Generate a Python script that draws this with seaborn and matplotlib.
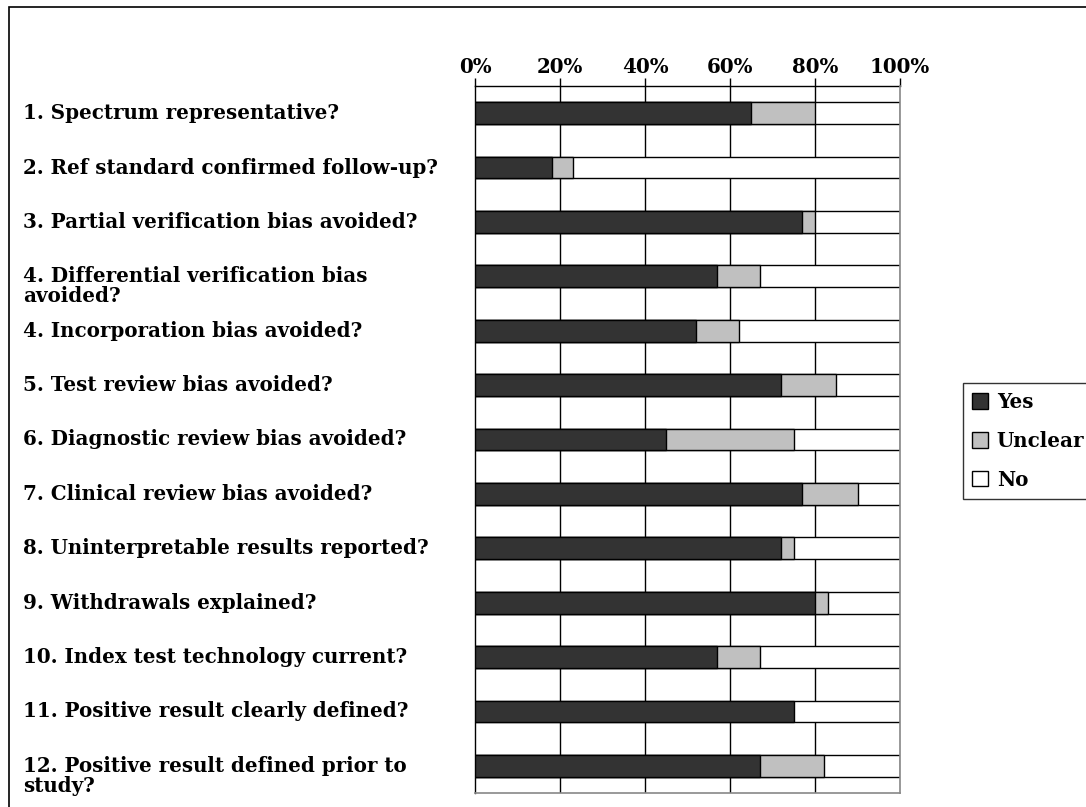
import pandas as pd
import seaborn as sns
import matplotlib.pyplot as plt
import matplotlib.transforms as mtransforms
from matplotlib.patches import Patch, Rectangle
import numpy as np


# QUADAS items and % of studies
items = ["1. Spectrum representative?",
         "2. Ref standard confirmed follow-up?",
         "3. Partial verification bias avoided?",
         "4. Differential verification bias\navoided?",
         "4. Incorporation bias avoided?",
         "5. Test review bias avoided?",
         "6. Diagnostic review bias avoided?",
         "7. Clinical review bias avoided?",
         "8. Uninterpretable results reported?",
         "9. Withdrawals explained?",
         "10. Index test technology current?",
         "11. Positive result clearly defined?",
         "12. Positive result defined prior to\nstudy?"]
yes = [65, 18, 77, 57, 52, 72, 45, 77, 72, 80, 57, 75, 67]
unclear = [15, 5, 3, 10, 10, 13, 30, 13, 3, 3, 10, 0, 15]
no = [20, 77, 20, 33, 38, 15, 25, 10, 25, 17, 33, 25, 18]
x_ticks = [0, 20, 40, 60, 80, 100]

sns.set_style("white")
plt.rcParams['font.family'] = ['DejaVu Serif']
plt.rcParams['font.weight'] = 'bold'
plt.rcParams['text.color'] = 'black'
plt.rcParams['xtick.labelcolor'] = 'black'
fs = 14.3

df = pd.DataFrame({'item': [str(i) for i in range(len(items))],
                   'yes': yes, 'unclear': unclear, 'no': no})
df['yes_unclear'] = df['yes'] + df['unclear']
df['total'] = df['yes_unclear'] + df['no']

fig = plt.figure(figsize=(10.86, 8.07), dpi=100)
ax = fig.add_axes([475/1086, 14/807, 425/1086, 707/807])

# stacked bars drawn as cumulative overlays
sns.barplot(data=df, x='total', y='item', color='white', edgecolor='black',
            linewidth=1, width=0.4, ax=ax, zorder=3, saturation=1)
sns.barplot(data=df[df['unclear'] > 0], x='yes_unclear', y='item', color='#c0c0c0',
            edgecolor='black', linewidth=1, width=0.4, ax=ax, zorder=4, saturation=1,
            order=df['item'])
sns.barplot(data=df, x='yes', y='item', color='#333333', edgecolor='black',
            linewidth=1, width=0.4, ax=ax, zorder=5, saturation=1)

ax.set_xlim(0, 100)
ax.set_ylim(len(items) - 0.5, -0.5)
ax.set_xlabel('')
ax.set_ylabel('')

# x axis on top
ax.xaxis.tick_top()
ax.set_xticks(x_ticks)
ax.set_xticklabels([f"{t}%" for t in x_ticks], fontsize=fs, fontweight='bold', color='black')
ax.tick_params(axis='x', direction='out', length=6, width=1, color='black', pad=0.5)
for t in x_ticks[1:-1]:
    ax.axvline(t, color='black', lw=1, zorder=1)

# y: ticks at category boundaries, labels drawn as text
ax.set_yticks(np.arange(-0.5, len(items), 1.0))
ax.set_yticklabels([])
ax.tick_params(axis='y', direction='out', length=8, width=1, color='#555555')

for side in ['left', 'top']:
    ax.spines[side].set_color('black')
    ax.spines[side].set_linewidth(1)
for side in ['right', 'bottom']:
    ax.spines[side].set_color('#888888')
    ax.spines[side].set_linewidth(1.2)
ax.spines['right'].set_zorder(6)

trans = mtransforms.blended_transform_factory(fig.transFigure, ax.transData)
for i, lab in enumerate(items):
    lines = lab.split('\n')
    ax.text(23/1086, i, lines[0], transform=trans, ha='left', va='center',
            fontsize=fs, fontweight='bold', color='black', clip_on=False)
    if len(lines) > 1:
        t2 = mtransforms.offset_copy(trans, fig=fig, y=-20, units='dots')
        ax.text(23/1086, i, lines[1], transform=t2, ha='left', va='center',
                fontsize=fs, fontweight='bold', color='black', clip_on=False)

handles = [Patch(facecolor='#333333', edgecolor='black', label='Yes'),
           Patch(facecolor='#c0c0c0', edgecolor='black', label='Unclear'),
           Patch(facecolor='white', edgecolor='black', label='No')]
leg = fig.legend(handles=handles, loc='upper left', bbox_to_anchor=(963/1086, 1 - 383/807),
                 frameon=True, fancybox=False, edgecolor='black', borderpad=0.45,
                 handlelength=0.8, handleheight=0.8, handletextpad=0.45, labelspacing=0.95,
                 borderaxespad=0, prop={'size': fs, 'weight': 'bold'})
leg.get_frame().set_linewidth(1)
for txt in leg.get_texts():
    txt.set_color('black')

# outer chart border
fig.patches.append(Rectangle((9/1086, -0.01), 1.0, 1 - 7/807 + 0.01, transform=fig.transFigure,
                             fill=False, edgecolor='black', lw=1.2))

plt.savefig('out.png', dpi=100)
